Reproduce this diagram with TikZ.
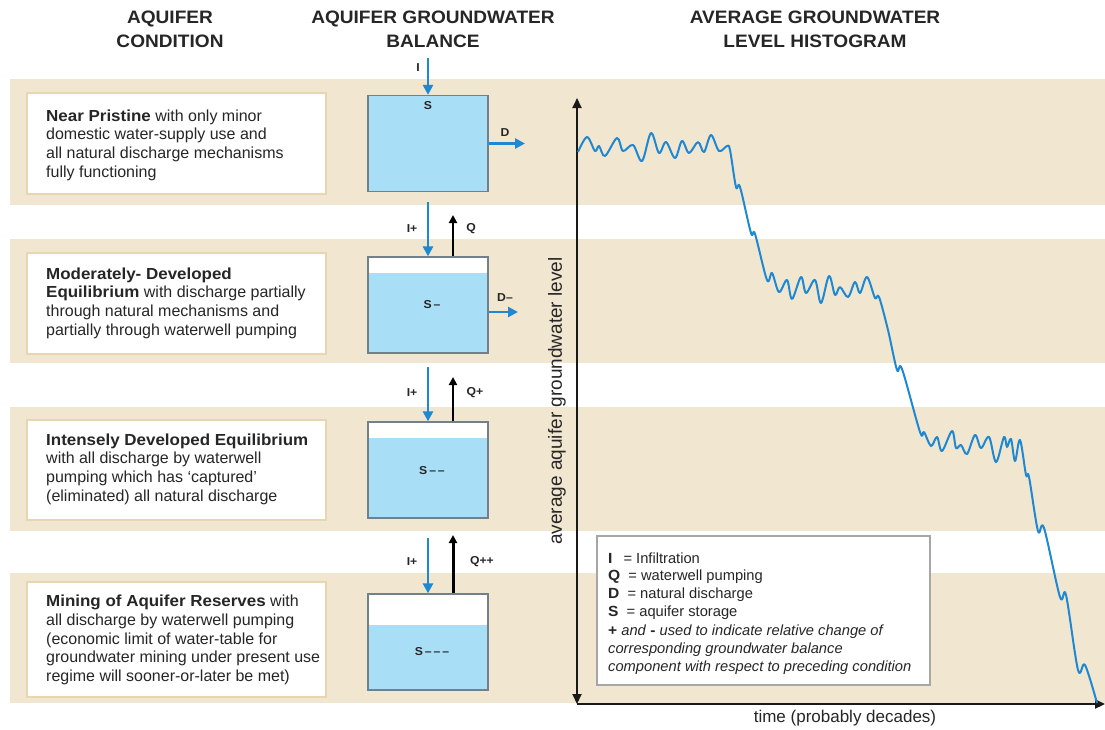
\documentclass[tikz,border=0pt]{standalone}
\usepackage{fontspec}
\setmainfont{Liberation Sans}[BoldFeatures={FakeStretch=1.06}]
\usetikzlibrary{arrows.meta}
\definecolor{bandc}{RGB}{241,230,208}
\definecolor{boxline}{RGB}{232,214,178}
\definecolor{waterc}{RGB}{168,222,246}
\definecolor{tankline}{RGB}{115,128,138}
\definecolor{flowblue}{RGB}{30,136,210}
\definecolor{txt}{RGB}{38,38,38}
\begin{document}
\begin{tikzpicture}[x=1pt,y=-1pt,
  bandstrip/.style={fill=bandc},
  condbox/.style={draw=boxline, line width=1.8pt, fill=white, minimum width=299pt, inner sep=0pt},
  condtext/.style={anchor=west, align=left, inner sep=0pt, text=txt, font=\fontsize{16}{18.6}\selectfont},
  tank/.style={draw=tankline, line width=1.3pt, fill=white, minimum width=120pt, minimum height=96pt, inner sep=0pt},
  waterlevel/.style={path picture={\fill[waterc] (path picture bounding box.south west) rectangle ([yshift=-#1]path picture bounding box.north east);}},
  inarrow/.style={draw=flowblue, line width=2.6pt, -{Triangle[length=10pt,width=10pt]}},
  qarrow/.style={draw=black, line width=#1, -{Triangle[length=8pt,width=8pt]}},
  lab/.style={text=txt, font=\fontsize{11.5}{13}\selectfont\bfseries, inner sep=0pt},
  head/.style={text=txt, align=center, font=\fontsize{18}{24}\selectfont\bfseries, inner sep=0pt},
  axis/.style={draw=black!90, line width=2pt},
  curve/.style={draw=flowblue, line width=2pt, line join=round},
  legtext/.style={anchor=west, text=txt, inner sep=0pt, font=\fontsize{14.7}{17}\selectfont}
]
\useasboundingbox[fill=white] (0,0) rectangle (1105,729);

% bands
\fill[bandstrip] (10,79) rectangle (1105,205);
\fill[bandstrip] (10,239) rectangle (1105,363);
\fill[bandstrip] (10,407) rectangle (1105,531);
\fill[bandstrip] (10,573) rectangle (1105,703);

% headers
\node[head] (h1) at (170,29) {AQUIFER\\CONDITION};
\node[head] (h2) at (433,29) {AQUIFER GROUNDWATER\\BALANCE};
\node[head] (h3) at (815,29) {AVERAGE GROUNDWATER\\LEVEL HISTOGRAM};

% condition boxes
\node[condbox, minimum height=101pt] (c1) at (176.5,143.5) {};
\node[condbox, minimum height=101pt] (c2) at (176.5,303.5) {};
\node[condbox, minimum height=100pt] (c3) at (176.5,470) {};
\node[condbox, minimum height=115pt] (c4) at (176.5,639.5) {};
\node[condtext] (c1t) at (46,145) {\textbf{Near Pristine} with only minor\\domestic water-supply use and\\all natural discharge mechanisms\\fully functioning};
\node[condtext] (c2t) at (46,303) {\textbf{Moderately- Developed}\\\textbf{Equilibrium} with discharge partially\\through natural mechanisms and\\partially through waterwell pumping};
\node[condtext] (c3t) at (46,469) {\textbf{Intensely Developed Equilibrium}\\with all discharge by waterwell\\pumping which has `captured'\\(eliminated) all natural discharge};
\node[condtext] (c4t) at (46,640) {\textbf{Mining of Aquifer Reserves} with\\all discharge by waterwell pumping\\(economic limit of water-table for\\groundwater mining under present use\\regime will sooner-or-later be met)};

% tanks
\node[tank, fill=waterc] (t1) at (428,143.5) {};
\node[tank, waterlevel=16pt] (t2) at (428,305) {};
\node[tank, waterlevel=16pt] (t3) at (428,470) {};
\node[tank, waterlevel=31pt] (t4) at (428,642) {};
\node[lab] (s1) at (428,106) {S};
\node[lab] (s2) at (432,305) {S\,–};
\node[lab] (s3) at (432,471) {S\,–\,–};
\node[lab] (s4) at (432,652) {S\,–\,–\,–};

% flows
\coordinate (i1) at (428,58);
\draw[inarrow] (i1) -- (t1.north);
\node[lab] (li1) at (418,68) {I};
\coordinate (d1) at (525,143.5);
\draw[inarrow] (t1.east) -- (d1);
\node[lab] (ld1) at (505,133) {D};

\coordinate (i2) at (428,202);
\draw[inarrow] (i2) -- (t2.north);
\coordinate (q2) at (453,215);
\draw[qarrow=2pt] (t2.north -| q2) -- (q2);
\node[lab] (li2) at (412,229) {I+};
\node[lab] (lq2) at (471,229) {Q};
\coordinate (d2) at (518,312);
\draw[inarrow] (t2.east |- d2) -- (d2);
\node[lab] (ld2) at (505,298) {D–};

\coordinate (i3) at (428,367);
\draw[inarrow] (i3) -- (t3.north);
\coordinate (q3) at (453,377);
\draw[qarrow=2.4pt] (t3.north -| q3) -- (q3);
\node[lab] (li3) at (412,393) {I+};
\node[lab] (lq3) at (475,393) {Q+};

\coordinate (i4) at (428,538);
\draw[inarrow] (i4) -- (t4.north);
\coordinate (q4) at (453,535);
\draw[qarrow=3pt] (t4.north -| q4) -- (q4);
\node[lab] (li4) at (412,562) {I+};
\node[lab] (lq4) at (482,562) {Q++};

% histogram axes
\coordinate (org) at (577,704);
\coordinate (ytop) at (577,98);
\coordinate (xend) at (1105,704);
\draw[axis, {Triangle[length=10pt,width=9pt]}-{Triangle[length=10pt,width=9pt]}] (org) -- (ytop);
\draw[axis, -{Triangle[length=10pt,width=9pt]}] (org) -- (xend);
\node[rotate=90, text=txt, font=\fontsize{19}{22}\selectfont, inner sep=0pt] (ylab) at (557,401) {average aquifer groundwater level};
\node[text=txt, font=\fontsize{17}{20}\selectfont, inner sep=0pt] (xlab) at (845,718) {time (probably decades)};

% curve
\draw[curve] plot[smooth, tension=0.55] coordinates {
(578,152) (587,137) (595,151) (599,146) (605,156) (617,138) (623,151) (633,145) (642,161) (651,133) (659,153) (666,142) (675,158) (682,141) (689,153) (698,142) (704,152) (711,135) (719,151) (727,146) (730,150)
(736,187) (740,187) (751,233) (755,234) (767,280) (772,273) (779,292) (787,280) (792,299) (801,277) (806,293) (815,280) (821,303) (829,276) (835,295) (840,287) (848,297) (855,282) (860,293) (867,277) (875,298) (879,297)
(888,330) (897,370) (902,369) (920,432) (924,432) (931,446) (937,437) (942,451) (952,431) (956,448) (961,445) (967,454) (975,435) (981,448) (989,437) (996,462) (1004,437) (1007,447) (1011,439) (1015,461) (1020,440) (1026,475) (1029,477)
(1038,531) (1044,528) (1060,597) (1066,595) (1078,670) (1085,665) (1097,703)};

% legend
\node[draw=gray!70, line width=1.2pt, fill=white, minimum width=333pt, minimum height=149pt, inner sep=0pt] (leg) at (763.5,610.5) {};
\node[legtext] (l1) at (608,558) {\textbf{I}\hspace{11pt}= Infiltration};
\node[legtext] (l2) at (608,577) {\textbf{Q}\hspace{4pt} = waterwell pumping};
\node[legtext] (l3) at (608,595) {\textbf{D}\hspace{4pt} = natural discharge};
\node[legtext] (l4) at (608,613) {\textbf{S}\hspace{4pt} = aquifer storage};
\node[legtext] (l5) at (608,632) {\textbf{+} \textit{and} \textbf{-} \textit{used to indicate relative change of}};
\node[legtext] (l6) at (608,650) {\textit{corresponding groundwater balance}};
\node[legtext] (l7) at (608,668) {\textit{component with respect to preceding condition}};
\end{tikzpicture}
\end{document}
